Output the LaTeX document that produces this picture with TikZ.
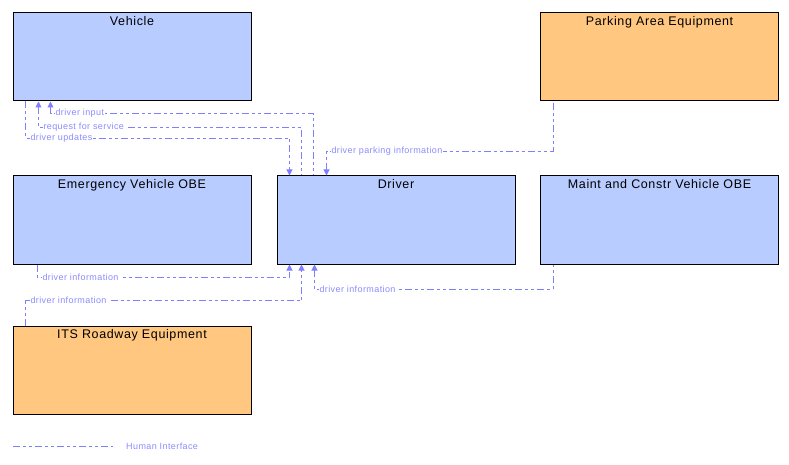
\documentclass[tikz,border=0pt]{standalone}
\usepackage{fontspec}
\setmainfont{Liberation Sans}
\newfontfamily\titlefont[LetterSpace=5]{Liberation Sans}
\newfontfamily\lblfont[LetterSpace=4.5]{Liberation Sans}
\usetikzlibrary{arrows.meta}
\definecolor{boxblue}{RGB}{185,204,255}
\definecolor{boxorange}{RGB}{255,199,128}
\definecolor{hiline}{RGB}{128,128,255}
\definecolor{hitext}{RGB}{140,140,255}
\tikzset{
  box/.style={draw=black,line width=1pt,minimum width=238pt,minimum height=88pt,inner sep=0pt},
  title/.style={label={[anchor=north,inner sep=0pt,yshift=-4pt,font=\titlefont\fontsize{12.5}{14}\selectfont]north:#1}},
  hi/.style={draw=hiline,line width=1pt,dash pattern=on 7pt off 3pt on 3pt off 3pt on 3pt off 3pt,
    arrows={-Triangle[length=6pt,width=6pt]}},
  lbl/.style={anchor=west,fill=white,inner sep=1pt,xshift=3.5pt,text=hitext,font=\lblfont\fontsize{9}{10}\selectfont}
}
\begin{document}
\begin{tikzpicture}[x=1pt,y=-1pt]
  \useasboundingbox (0,0) rectangle (789,465);
  \node [box,fill=boxblue,title=Vehicle] (veh) at (132,57) {};
  \node [box,fill=boxorange,title=Parking Area Equipment] (park) at (659.5,57) {};
  \node [box,fill=boxblue,title=Emergency Vehicle OBE] (evobe) at (132,220) {};
  \node [box,fill=boxblue,title=Driver] (drv) at (396,220) {};
  \node [box,fill=boxblue,title=Maint and Constr Vehicle OBE] (mcvobe) at (659.5,220) {};
  \node [box,fill=boxorange,title=ITS Roadway Equipment] (its) at (132,370) {};
  \draw [hi,arrows={Triangle[length=6pt,width=6pt]-}] ([xshift=38pt]veh.south west) -- ++(0,12) node [lbl] {driver input} -| ([xshift=37pt]drv.north west);
  \draw [hi,arrows={Triangle[length=6pt,width=6pt]-}] ([xshift=26pt]veh.south west) -- ++(0,26) node [lbl] {request for service} -| ([xshift=25pt]drv.north west);
  \draw [hi] ([xshift=13pt]veh.south west) -- ++(0,37) node [lbl] {driver updates} -| ([xshift=13pt]drv.north west);
  \draw [hi,arrows={Triangle[length=6pt,width=6pt]-}] ([xshift=50pt]drv.north west) -- ++(0,-24) node [lbl] {driver parking information} -| ([xshift=13pt]park.south west);
  \draw [hi] ([xshift=25pt]evobe.south west) -- ++(0,13) node [lbl] {driver information} -| ([xshift=13pt]drv.south west);
  \draw [hi] ([xshift=13pt]its.north west) -- ++(0,-25) node [lbl] {driver information} -| ([xshift=25pt]drv.south west);
  \draw [hi,arrows={Triangle[length=6pt,width=6pt]-}] ([xshift=38pt]drv.south west) -- ++(0,25) node [lbl] {driver information} -| ([xshift=13pt]mcvobe.south west);
  \coordinate (lgA) at (13,446);
  \coordinate (lgB) at (113,446);
  \draw [hi,arrows=-] (lgA) -- (lgB);
  \node [anchor=west,inner sep=0pt,text=hitext,font=\lblfont\fontsize{9}{10}\selectfont] (lgtext) at (126,446) {Human Interface};
\end{tikzpicture}
\end{document}
